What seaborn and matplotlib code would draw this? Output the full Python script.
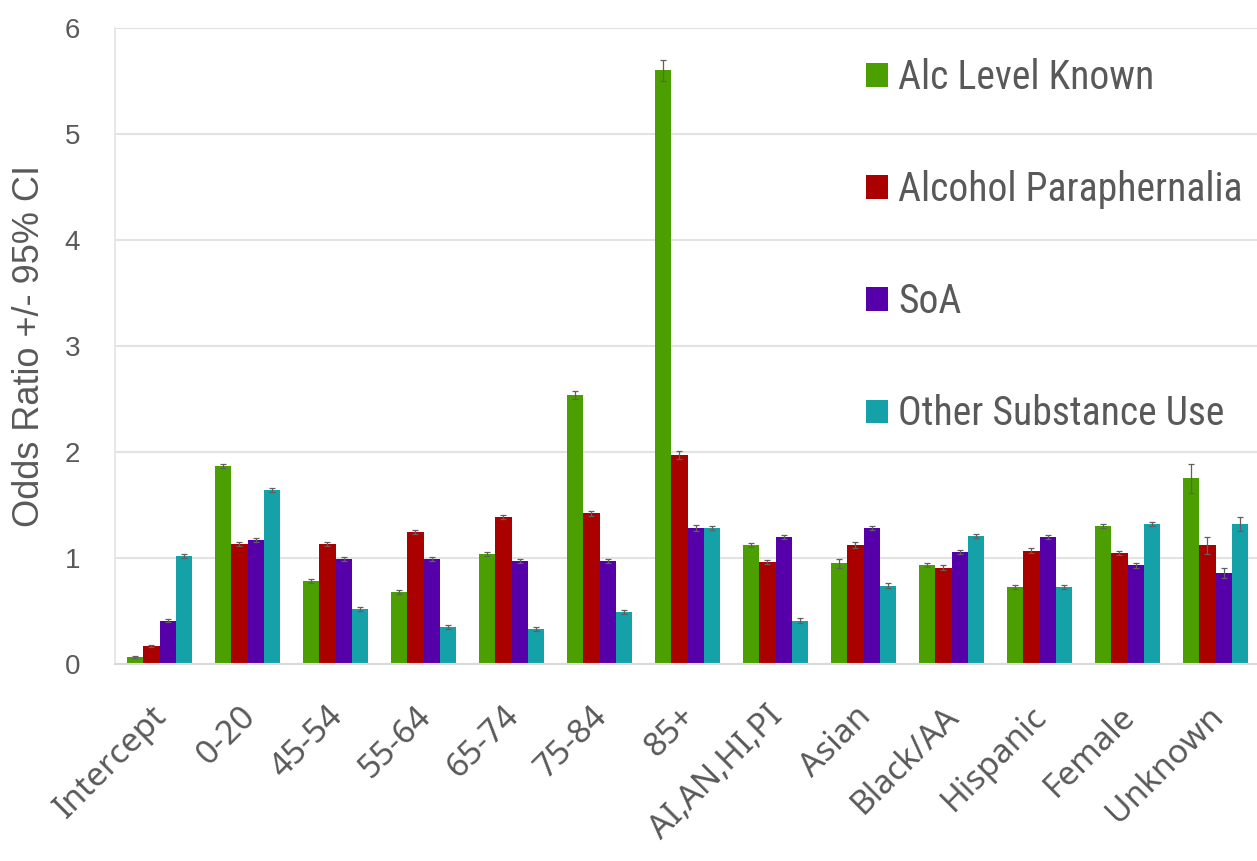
import numpy as np
import pandas as pd
import matplotlib
matplotlib.use("Agg")
import matplotlib.pyplot as plt
import matplotlib.transforms as mtransforms
import seaborn as sns

categories = ["Intercept", "0-20", "45-54", "55-64", "65-74", "75-84", "85+",
              "AI,AN,HI,PI", "Asian", "Black/AA", "Hispanic", "Female", "Unknown"]
series_names = ["Alc Level Known", "Alcohol Paraphernalia", "SoA", "Other Substance Use"]

alc_level_known = [0.07, 1.87, 0.78, 0.68, 1.04, 2.54, 5.60, 1.12, 0.95, 0.935, 0.73, 1.30, 1.75]
alcohol_paraph = [0.17, 1.13, 1.13, 1.245, 1.39, 1.42, 1.97, 0.96, 1.12, 0.91, 1.07, 1.05, 1.12]
soa = [0.41, 1.17, 0.99, 0.99, 0.97, 0.97, 1.28, 1.20, 1.28, 1.055, 1.20, 0.93, 0.86]
other_subst = [1.02, 1.64, 0.52, 0.35, 0.33, 0.49, 1.28, 0.41, 0.74, 1.21, 0.73, 1.32, 1.32]

alc_level_known_ci = [0.01, 0.02, 0.02, 0.02, 0.02, 0.04, 0.10, 0.02, 0.04, 0.02, 0.02, 0.02, 0.14]
alcohol_paraph_ci = [0.01, 0.02, 0.02, 0.02, 0.02, 0.02, 0.04, 0.02, 0.03, 0.02, 0.02, 0.02, 0.08]
soa_ci = [0.01, 0.02, 0.02, 0.02, 0.02, 0.02, 0.03, 0.02, 0.02, 0.02, 0.02, 0.02, 0.05]
other_subst_ci = [0.02, 0.02, 0.02, 0.02, 0.02, 0.02, 0.02, 0.02, 0.02, 0.02, 0.02, 0.02, 0.07]

colors = ["#4C9F00", "#AA0000", "#5500A8", "#14A1A8"]

values = [alc_level_known, alcohol_paraph, soa, other_subst]
cis = [alc_level_known_ci, alcohol_paraph_ci, soa_ci, other_subst_ci]

rows = []
for name, vals in zip(series_names, values):
    for c, v in zip(categories, vals):
        rows.append({"category": c, "series": name, "value": v})
df = pd.DataFrame(rows)

sns.set_theme(style="white")
plt.rcParams["font.family"] = ["Liberation Sans", "DejaVu Sans"]

fig = plt.figure(figsize=(12.57, 8.61), dpi=100)
ax = fig.add_axes([0.0915, 0.2288, 0.9085, 0.7387])

sns.barplot(data=df, x="category", y="value", hue="series", order=categories,
            hue_order=series_names, palette=colors, width=0.74, errorbar=None,
            saturation=1, linewidth=0, ax=ax)

# error bars positioned on the drawn bars
for cont, ci in zip(ax.containers, cis):
    xs = [p.get_x() + p.get_width() / 2 for p in cont.patches]
    ys = [p.get_height() for p in cont.patches]
    ax.errorbar(xs, ys, yerr=ci, fmt="none", ecolor="#606060", elinewidth=0.9,
                capsize=2.5, capthick=0.9, zorder=5)

ax.set_ylim(0, 6)
ax.set_xlim(-0.506, 12.47)
ax.set_yticks(range(0, 7))
ax.yaxis.grid(True, color="#E3E3E3", linewidth=1.5)
ax.set_axisbelow(True)
for s in ["top", "right"]:
    ax.spines[s].set_visible(False)
ax.spines["left"].set_color("#E3E3E3")
ax.spines["left"].set_linewidth(1.2)
ax.spines["bottom"].set_color("#D9D9D9")
ax.spines["bottom"].set_linewidth(1.5)

ax.tick_params(axis="y", labelsize=20, colors="#595959", length=0, pad=25)
ax.tick_params(axis="x", length=0, pad=26)
ax.set_xticks(range(len(categories)))
ax.set_xticklabels(categories, rotation=45, ha="right", rotation_mode="anchor",
                   fontsize=24, color="#595959", family=["Noto Sans", "DejaVu Sans"])
offset = mtransforms.ScaledTranslation(-9 / 100, 0, fig.dpi_scale_trans)
for lbl in ax.get_xticklabels():
    lbl.set_transform(lbl.get_transform() + offset)
ax.set_xlabel("")
ax.set_ylabel("Odds Ratio +/- 95% CI", fontsize=26, color="#595959", labelpad=13)

handles, labels = ax.get_legend_handles_labels()
leg = ax.legend(handles, labels, loc="upper left", bbox_to_anchor=(0.644, 0.978),
                frameon=False, labelspacing=1.85, handlelength=0.55,
                handleheight=0.55, handletextpad=0.25, borderaxespad=0,
                prop={"family": ["Roboto Condensed", "Roboto", "DejaVu Sans"], "size": 28.5})
for t in leg.get_texts():
    t.set_color("#595959")

fig.savefig("out.png", dpi=100)
